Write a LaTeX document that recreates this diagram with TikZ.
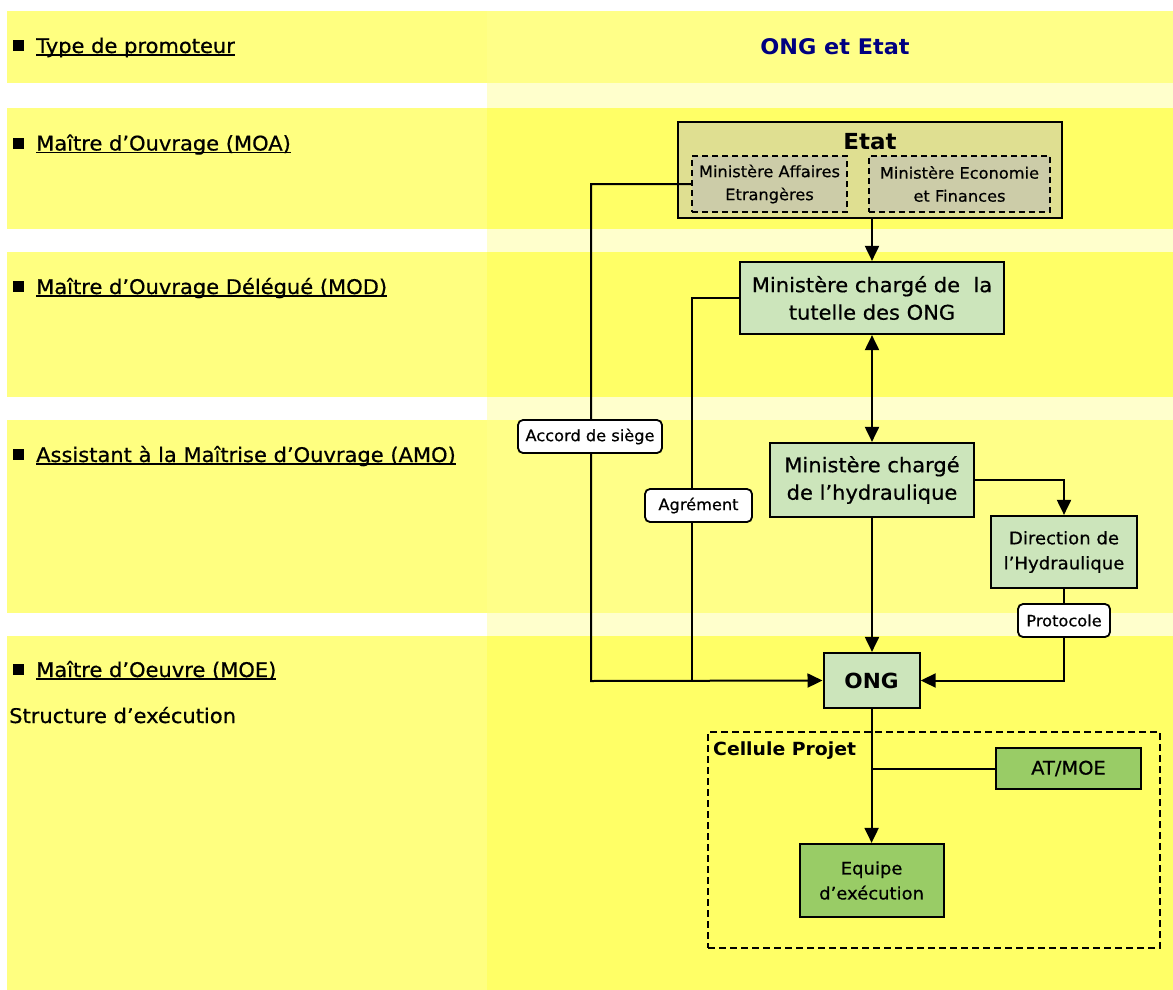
\documentclass[tikz,border=0pt]{standalone}
\usepackage{fontspec}
\setmainfont{DejaVu Sans}[FakeStretch=1.04, UprightFeatures={FakeBold=0.6}]
\usetikzlibrary{arrows.meta}

\definecolor{bandleft}{HTML}{FFFF80}
\definecolor{bandsat}{HTML}{FFFF66}
\definecolor{bandpale}{HTML}{FFFF88}
\definecolor{gapright}{HTML}{FFFFCC}
\definecolor{etatfill}{HTML}{DFDF91}
\definecolor{minfill}{HTML}{CCCCA8}
\definecolor{palegreen}{HTML}{CCE5BB}
\definecolor{midgreen}{HTML}{99CC66}
\definecolor{titlenavy}{HTML}{000080}

\newcommand\fsz[2]{\fontsize{#1}{#2}\selectfont}
% underline that runs just under the baseline, through the descenders
\newcommand\ulin[1]{\setbox0\hbox{#1}\rlap{\rule[-2.8pt]{\wd0}{1.6pt}}\box0}
% square bullet of the row headings
\newcommand\bulsq{\rule[1.8pt]{11pt}{11pt}\hspace{12.5pt}}

\tikzset{
  orgbox/.style={draw=black, line width=2.2pt, align=center, inner sep=0pt},
  greenbox/.style={orgbox, fill=palegreen},
  darkbox/.style={orgbox, fill=midgreen},
  minbox/.style={draw=black, line width=2pt, dash pattern=on 6pt off 4pt,
                 fill=minfill, align=center, inner sep=0pt, font=\fsz{15.6}{23}},
  tagbox/.style={draw=black, line width=1.8pt, fill=white, rounded corners=5pt,
                 inner sep=0pt, font=\fsz{15.6}{18}, minimum height=33pt},
  conn/.style={line width=2pt},
  arr/.style={conn, -{Triangle[length=15pt,width=14pt]}},
  arrboth/.style={conn, {Triangle[length=15pt,width=14pt]}-{Triangle[length=15pt,width=14pt]}},
  rowtext/.style={anchor=base west, inner sep=0pt, font=\fsz{20.2}{24}},
}

\begin{document}
\begin{tikzpicture}[x=1pt, y=-1pt]
\useasboundingbox (0,0) rectangle (1173,990);

% horizontal bands: left column and right column
\fill[bandleft] (7,11) rectangle (487,83);
\fill[bandpale] (487,11) rectangle (1173,83);
\fill[gapright] (487,83) rectangle (1173,108);
\fill[bandleft] (7,108) rectangle (487,229);
\fill[bandsat] (487,108) rectangle (1173,229);
\fill[gapright] (487,229) rectangle (1173,252);
\fill[bandleft] (7,252) rectangle (487,397);
\fill[bandsat] (487,252) rectangle (1173,397);
\fill[gapright] (487,397) rectangle (1173,420);
\fill[bandleft] (7,420) rectangle (487,613);
\fill[bandpale] (487,420) rectangle (1173,613);
\fill[gapright] (487,613) rectangle (1173,636);
\fill[bandleft] (7,636) rectangle (487,990);
\fill[bandsat] (487,636) rectangle (1173,990);

% row headings
\node[rowtext] (h1) at (12.5,53) {\bulsq\ulin{Type de promoteur}};
\node[rowtext] (h2) at (12.5,150.5) {\bulsq\ulin{Maître d’Ouvrage (MOA)}};
\node[rowtext] (h3) at (12.5,294) {\bulsq\ulin{Maître d’Ouvrage Délégué (MOD)}};
\node[rowtext] (h4) at (12.5,462) {\bulsq\ulin{Assistant à la Maîtrise d’Ouvrage (AMO)}};
\node[rowtext] (h5) at (12.5,677) {\bulsq\ulin{Maître d’Oeuvre (MOE)}};
\node[rowtext] (h6) at (9,723) {Structure d’exécution};

\node[inner sep=0pt, font=\bfseries\fsz{21.5}{25}, text=titlenavy] (title) at (835,47) {ONG et Etat};

% State and its ministries
\node[orgbox, fill=etatfill, minimum width=384pt, minimum height=96pt] (etat) at (870,170) {};
\node[inner sep=0pt, font=\bfseries\fsz{22.1}{25}] (etatname) at (870,142) {Etat};
\node[minbox, minimum width=155pt, minimum height=56pt] (mae) at (769.5,184) {Ministère Affaires\\Etrangères};
\node[minbox, minimum width=181pt, minimum height=56pt] (mef) at (959.5,184) {Ministère Economie\\et Finances};

\node[greenbox, minimum width=264pt, minimum height=72pt, font=\fsz{20.2}{27.5}] (tutelle) at (872,298) {Ministère chargé de~ la\\tutelle des ONG};
\node[greenbox, minimum width=204pt, minimum height=74pt, font=\fsz{20.2}{27.5}] (hydro) at (872,480) {Ministère chargé\\de l’hydraulique};
\node[greenbox, minimum width=146pt, minimum height=72pt, font=\fsz{17.4}{25}] (dir) at (1064,552) {Direction de\\l’Hydraulique};
\node[greenbox, minimum width=96pt, minimum height=55pt, font=\bfseries\fsz{20.8}{24}] (ong) at (871.6,680.5) {ONG};

% project cell
\node[draw=black, line width=2pt, dash pattern=on 7pt off 4pt, inner sep=0pt,
      minimum width=452pt, minimum height=216pt] (cellule) at (934,840) {};
\node[anchor=west, inner sep=0pt, font=\bfseries\fsz{18.1}{21}] (celltitle) at (713,751) {Cellule Projet};
\node[darkbox, minimum width=145pt, minimum height=41pt, font=\fsz{18.7}{22}] (atmoe) at (1068.5,768.5) {AT/MOE};
\node[darkbox, minimum width=144pt, minimum height=73pt, font=\fsz{17.3}{25}] (equipe) at (871.6,880.5) {Equipe\\d’exécution};

% connectors
\coordinate (acc) at (591,681);
\coordinate (agr) at (692,681);
\draw[arr] (mae.west) -| (acc) -- (ong.west);
\draw[conn] (tutelle.west) -| (agr);
\draw[arr] (etat.south -| tutelle.north) -- (tutelle.north);
\draw[arrboth] (tutelle.south) -- (hydro.north);
\draw[arr] (hydro.south) -- (hydro.south |- ong.north);
\draw[arr] (hydro.east) -| (dir.north);
\draw[arr] (dir.south) |- (ong.east);
\draw[arr] (ong.south) -- (equipe.north);
\draw[conn] (atmoe.west) -- (atmoe.west -| ong.south);

% connector labels
\node[tagbox, minimum width=144pt] (accord) at (590,436.5) {Accord de siège};
\node[tagbox, minimum width=107pt] (agrement) at (698.5,505.5) {Agrément};
\node[tagbox, minimum width=92pt] (protocole) at (1064,620.5) {Protocole};
\end{tikzpicture}
\end{document}
